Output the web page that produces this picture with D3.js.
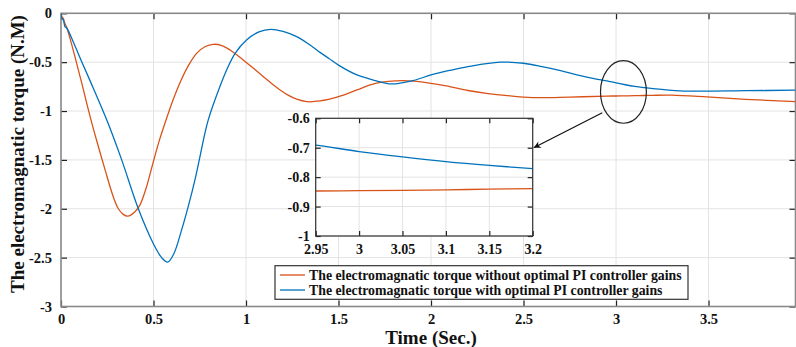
<!DOCTYPE html>
<html><head><meta charset="utf-8">
<script src="https://cdn.jsdelivr.net/npm/d3@7"></script>
<style>
html,body{margin:0;padding:0;background:#fff;}
svg{display:block;}
text{font-family:"Liberation Serif","Times New Roman",serif;font-weight:bold;fill:#111;}
</style></head>
<body>
<svg id="c" width="796" height="347"></svg>
<script>
// ---- data ----
const seriesNames = [
  "The electromagnatic torque without optimal PI controller gains",
  "The electromagnatic torque with optimal PI controller gains"
];
const timeOrange = [0,0.006,0.012,0.02,0.03,0.058,0.11,0.162,0.2,0.238,0.283,0.31,0.335,0.36,0.4,0.427,0.46,0.496,0.53,0.568,0.605,0.643,0.69,0.733,0.78,0.823,0.87,0.914,0.96,1.003,1.05,1.094,1.14,1.184,1.23,1.274,1.328,1.4,1.5,1.6,1.7,1.85,2.0,2.1,2.2,2.3,2.4,2.55,2.75,2.95,3.0,3.05,3.1,3.15,3.2,3.3,3.49,3.7,3.97];
const torqueOrange = [0,-0.04,-0.05,-0.1,-0.14,-0.32,-0.7,-1.09,-1.35,-1.6,-1.88,-2.0,-2.055,-2.076,-2.03,-1.96,-1.79,-1.54,-1.31,-1.09,-0.89,-0.71,-0.53,-0.41,-0.34,-0.317,-0.33,-0.375,-0.44,-0.505,-0.578,-0.648,-0.72,-0.784,-0.84,-0.879,-0.904,-0.897,-0.853,-0.784,-0.716,-0.689,-0.716,-0.75,-0.79,-0.82,-0.84,-0.862,-0.857,-0.847,-0.846,-0.845,-0.843,-0.841,-0.839,-0.838,-0.856,-0.88,-0.904];
const timeBlue = [0,0.004,0.013,0.022,0.031,0.07,0.112,0.18,0.247,0.328,0.418,0.5,0.544,0.577,0.61,0.652,0.69,0.724,0.778,0.796,0.859,0.9,0.941,1.003,1.07,1.133,1.2,1.274,1.35,1.4,1.45,1.5,1.6,1.7,1.787,1.9,2.0,2.1,2.2,2.373,2.5,2.6,2.7,2.8,2.9,2.95,3.0,3.05,3.1,3.15,3.2,3.346,3.454,3.7,3.97];
const torqueBlue = [0,-0.05,-0.07,-0.14,-0.15,-0.31,-0.495,-0.79,-1.09,-1.5,-2.0,-2.36,-2.5,-2.546,-2.46,-2.216,-1.96,-1.704,-1.227,-1.09,-0.75,-0.56,-0.409,-0.273,-0.19,-0.164,-0.185,-0.239,-0.33,-0.40,-0.465,-0.53,-0.631,-0.689,-0.723,-0.69,-0.631,-0.585,-0.546,-0.5,-0.511,-0.545,-0.587,-0.635,-0.675,-0.691,-0.713,-0.731,-0.747,-0.76,-0.771,-0.794,-0.797,-0.792,-0.787];
const xTicks = [0,0.5,1,1.5,2,2.5,3,3.5];
const yTicks = [0,-0.5,-1,-1.5,-2,-2.5,-3];
const insetXTicks = [2.95,3,3.05,3.1,3.15,3.2];
const insetYTicks = [-0.6,-0.7,-0.8,-0.9,-1];
const xLabel = "Time (Sec.)";
const yLabel = "The electromagnatic torque (N.M)";

// ---- drawing ----
const colors = ["#D95319", "#0072BD"];
const svg = d3.select("#c");
const tMax = 3.97;
const x = d3.scaleLinear([0, tMax], [61, 795.5]);
const y = d3.scaleLinear([-3, 0], [306.5, 13.3]);
const series = [
  timeOrange.map((t,i)=>[t, torqueOrange[i]]),
  timeBlue.map((t,i)=>[t, torqueBlue[i]])
];

const defs = svg.append("defs");
defs.append("clipPath").attr("id","clipMain").append("rect")
  .attr("x",x(0)).attr("y",y(0)).attr("width",x(tMax)-x(0)).attr("height",y(-3)-y(0));

// grid
const grid = svg.append("g");
xTicks.forEach(t=>grid.append("line").attr("x1",x(t)).attr("x2",x(t)).attr("y1",y(0)).attr("y2",y(-3)).attr("stroke","#e3e3e3"));
yTicks.forEach(v=>grid.append("line").attr("x1",x(0)).attr("x2",x(tMax)).attr("y1",y(v)).attr("y2",y(v)).attr("stroke","#e3e3e3"));

const fmt = d=>String(d);
function styleAxis(g){ g.select(".domain").remove(); g.selectAll("line").attr("stroke","#222").attr("stroke-width",1.2); g.selectAll("text").attr("font-size",14.5).attr("fill","#111"); }
svg.append("g").attr("transform",`translate(0,${y(-3)})`)
  .call(d3.axisBottom(x).tickValues(xTicks).tickFormat(fmt).tickSizeInner(-6).tickSizeOuter(0).tickPadding(7)).call(styleAxis);
svg.append("g").attr("transform",`translate(0,${y(0)})`)
  .call(d3.axisTop(x).tickValues(xTicks).tickFormat("").tickSizeInner(-6).tickSizeOuter(0)).call(styleAxis);
svg.append("g").attr("transform",`translate(${x(0)},0)`)
  .call(d3.axisLeft(y).tickValues(yTicks).tickFormat(fmt).tickSizeInner(-6).tickSizeOuter(0).tickPadding(9)).call(styleAxis);
svg.append("g").attr("transform",`translate(${x(tMax)},0)`)
  .call(d3.axisRight(y).tickValues(yTicks).tickFormat("").tickSizeInner(-6).tickSizeOuter(0)).call(styleAxis);

// box
svg.append("rect").attr("x",x(0)).attr("y",y(0)).attr("width",x(tMax)-x(0)).attr("height",y(-3)-y(0))
  .attr("fill","none").attr("stroke","#8a8a8a").attr("stroke-width",1.6);

// lines
const line = d3.line().x(d=>x(d[0])).y(d=>y(d[1])).curve(d3.curveCatmullRom.alpha(0.5));
const lg = svg.append("g").attr("clip-path","url(#clipMain)");
series.forEach((s,i)=>lg.append("path").attr("d",line(s)).attr("fill","none").attr("stroke",colors[i]).attr("stroke-width",1.3));

// axis titles
svg.append("text").attr("x",431).attr("y",344).attr("text-anchor","middle").attr("font-size",19).text(xLabel);
svg.append("text").attr("transform","translate(24,154) rotate(-90)").attr("text-anchor","middle").attr("font-size",19).text(yLabel);

// ---- inset ----
const xi = d3.scaleLinear([2.95,3.2],[315.7,532.7]);
const yi = d3.scaleLinear([-1,-0.6],[236,118.3]);
defs.append("clipPath").attr("id","clipInset").append("rect")
  .attr("x",xi(2.95)).attr("y",yi(-0.6)).attr("width",xi(3.2)-xi(2.95)).attr("height",yi(-1)-yi(-0.6));
const ig = svg.append("g");
ig.append("rect").attr("x",xi(2.95)).attr("y",yi(-0.6)).attr("width",xi(3.2)-xi(2.95)).attr("height",yi(-1)-yi(-0.6)).attr("fill","#fff");
insetXTicks.forEach(t=>ig.append("line").attr("x1",xi(t)).attr("x2",xi(t)).attr("y1",yi(-0.6)).attr("y2",yi(-1)).attr("stroke","#e3e3e3"));
insetYTicks.forEach(v=>ig.append("line").attr("x1",xi(2.95)).attr("x2",xi(3.2)).attr("y1",yi(v)).attr("y2",yi(v)).attr("stroke","#e3e3e3"));
function styleInset(g){ g.select(".domain").remove(); g.selectAll("line").attr("stroke","#222").attr("stroke-width",1.2); g.selectAll("text").attr("font-size",14).attr("fill","#111"); }
ig.append("g").attr("transform",`translate(0,${yi(-1)})`)
  .call(d3.axisBottom(xi).tickValues(insetXTicks).tickFormat(fmt).tickSizeInner(-5).tickSizeOuter(0).tickPadding(8)).call(styleInset);
ig.append("g").attr("transform",`translate(0,${yi(-0.6)})`)
  .call(d3.axisTop(xi).tickValues(insetXTicks).tickFormat("").tickSizeInner(-5).tickSizeOuter(0)).call(styleInset);
ig.append("g").attr("transform",`translate(${xi(2.95)},0)`)
  .call(d3.axisLeft(yi).tickValues(insetYTicks).tickFormat(fmt).tickSizeInner(-5).tickSizeOuter(0).tickPadding(6)).call(styleInset);
ig.append("g").attr("transform",`translate(${xi(3.2)},0)`)
  .call(d3.axisRight(yi).tickValues(insetYTicks).tickFormat("").tickSizeInner(-5).tickSizeOuter(0)).call(styleInset);
const lineI = d3.line().x(d=>xi(d[0])).y(d=>yi(d[1])).curve(d3.curveCatmullRom.alpha(0.5));
const ilg = ig.append("g").attr("clip-path","url(#clipInset)");
series.forEach((s,i)=>ilg.append("path").attr("d",lineI(s.filter(d=>d[0]>=2.9&&d[0]<=3.25))).attr("fill","none").attr("stroke",colors[i]).attr("stroke-width",1.3));
ig.append("rect").attr("x",xi(2.95)).attr("y",yi(-0.6)).attr("width",xi(3.2)-xi(2.95)).attr("height",yi(-1)-yi(-0.6))
  .attr("fill","none").attr("stroke","#333").attr("stroke-width",1.2);

// ellipse + arrow
const ecx = x(3.04), ecy = y(-0.805);
svg.append("ellipse").attr("cx",ecx).attr("cy",ecy).attr("rx",x(3.04+0.124)-ecx).attr("ry",y(-0.805-0.32)-ecy)
  .attr("fill","none").attr("stroke","#222").attr("stroke-width",1.2);
defs.append("marker").attr("id","arr").attr("viewBox","0 0 10 10").attr("refX",10).attr("refY",5)
  .attr("markerWidth",9).attr("markerHeight",7).attr("orient","auto").attr("markerUnits","userSpaceOnUse")
  .append("path").attr("d","M0,0 L10,5 L0,10 L3,5 Z").attr("fill","#111");
svg.append("line").attr("x1",602.3).attr("y1",112.7).attr("x2",xi(3.2)+1).attr("y2",yi(-0.7))
  .attr("stroke","#111").attr("stroke-width",1.2).attr("marker-end","url(#arr)");

// legend
const leg = svg.append("g");
leg.append("rect").attr("x",275).attr("y",265.7).attr("width",413).attr("height",33.6).attr("fill","#fff").attr("stroke","#333").attr("stroke-width",1.2);
seriesNames.forEach((n,i)=>{
  const yy = 275 + i*15;
  leg.append("line").attr("x1",280).attr("x2",305).attr("y1",yy).attr("y2",yy).attr("stroke",colors[i]).attr("stroke-width",2).attr("opacity",0.65);
  leg.append("text").attr("x",309).attr("y",yy+4.5).attr("font-size",13.8).text(n);
});
</script>
</body></html>
